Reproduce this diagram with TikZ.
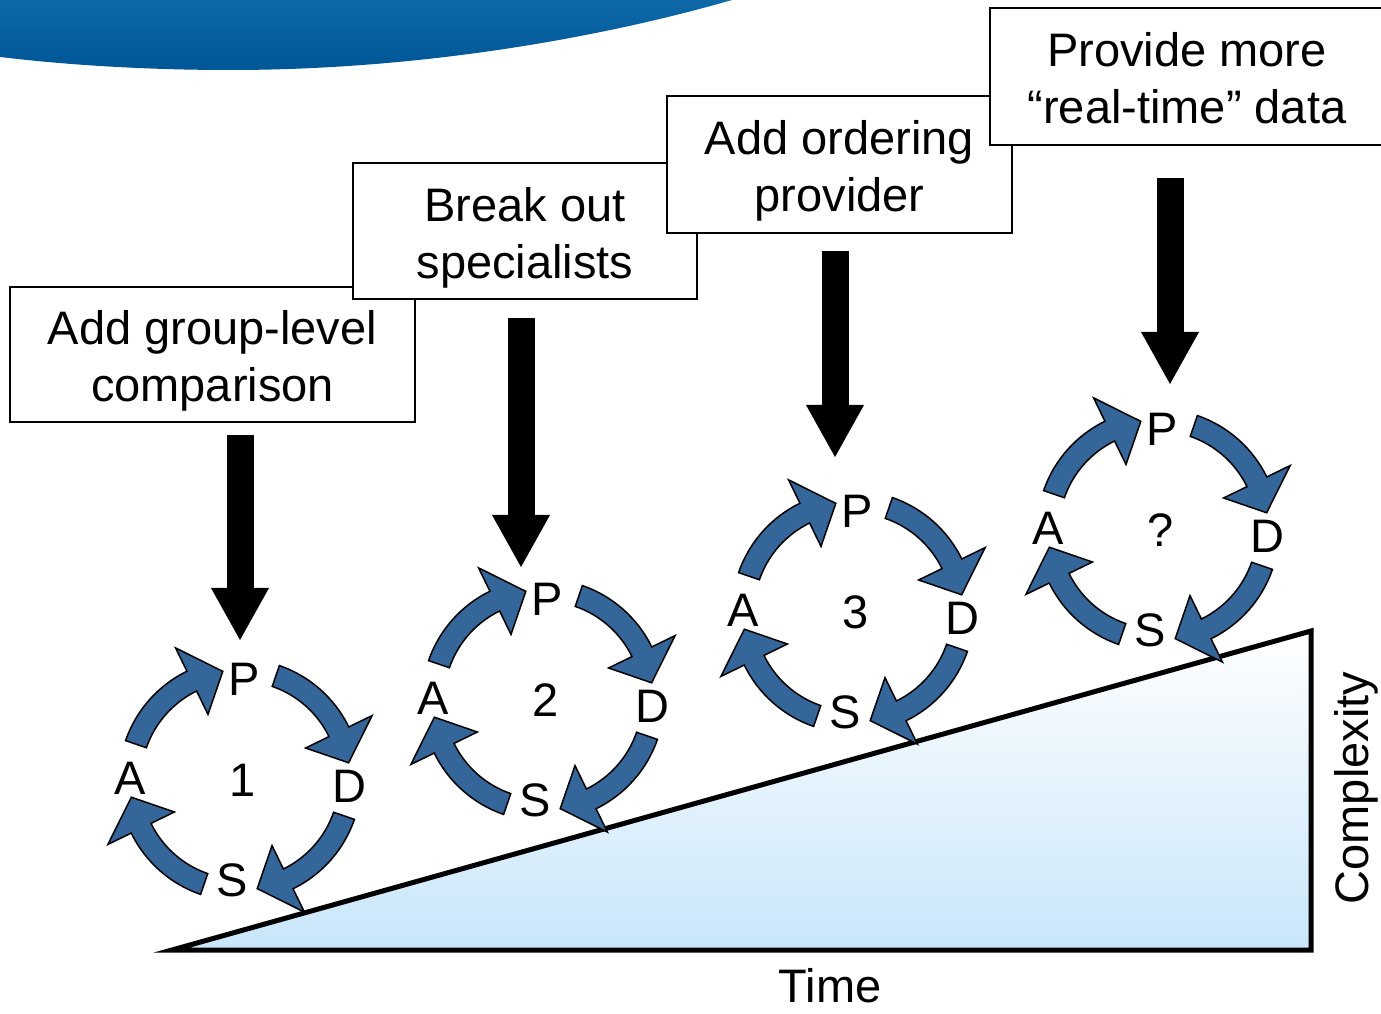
\documentclass[tikz,border=0pt]{standalone}
\usepackage{fontspec}
\setmainfont{Liberation Sans}
\usetikzlibrary{arrows.meta}
\definecolor{swtop}{RGB}{14,104,168}
\definecolor{swbot}{RGB}{0,86,150}
\definecolor{cyc}{RGB}{52,102,154}
\definecolor{triblue}{RGB}{200,230,250}
\newcommand{\topstrut}[1]{\rule{0pt}{#1}}
\tikzset{
  txt/.style={font=\fontsize{23.5pt}{28.5pt}\selectfont},
  box/.style={txt, draw=black, line width=0.8pt, fill=white, align=center, inner sep=0pt},
  bigarrow/.style={line width=13.5pt, -{Triangle[length=26pt,width=29pt,line width=0pt]}},
  cycarrow/.style={fill=cyc, draw=black, line width=0.75pt, line join=miter},
  pdsa/.pic={
    \foreach \k in {0,1,2,3}{
      \pgfmathsetmacro\sa{161-90*\k}
      \pgfmathsetmacro\ba{\sa-45}
      \pgfmathsetmacro\ta{\sa-62}
      \filldraw[cycarrow] (\sa:121) arc[start angle=\sa,end angle=\ba,radius=60.5pt]
        -- (\ba:147) -- (\ta:110) -- (\ba:73) -- (\ba:99)
        arc[start angle=\ba,end angle=\sa,radius=49.5pt] -- cycle;
    }
    \node[txt] (-P) at (4,101) {P};
    \node[txt] (-D) at (109,-6) {D};
    \node[txt] (-S) at (-8,-100) {S};
    \node[txt] (-A) at (-110,2) {A};
    \node[txt] (-n) at (3,0) {#1};
  }
}
\begin{document}
\begin{tikzpicture}[x=0.5pt,y=0.5pt]
\useasboundingbox (0,0) rectangle (1381,1013);
% top swoosh
\shade[top color=swtop, bottom color=swbot] (0,1013) -- (732,1013)
  .. controls (600,975) and (420,943) .. (230,943)
  .. controls (130,943) and (50,950) .. (0,956) -- cycle;
% triangle
\draw[line width=2.5pt, line join=miter, top color=white, bottom color=triblue]
  (172,63) -- (1311,63) -- (1311,382) -- cycle;
% boxes
\node[box, minimum width=202.5pt, minimum height=67.5pt] (b1) at (212.5,658.5) {\topstrut{23pt}Add group-level\\comparison};
\node[box, minimum width=172pt, minimum height=68pt] (b2) at (525,782) {\topstrut{24pt}Break out\\specialists};
\node[box, minimum width=172.5pt, minimum height=68.5pt] (b3) at (839.5,848.5) {\topstrut{23pt}Add ordering\\provider};
\node[box, minimum width=197pt, minimum height=68.5pt] (b4) at (1187,936.5) {\topstrut{19pt}Provide more\\“real-time” data};
% arrow endpoints
\coordinate (a1s) at (240,578); \coordinate (a1e) at (240,373);
\coordinate (a2s) at (521,695); \coordinate (a2e) at (521,446);
\coordinate (a3s) at (835,762); \coordinate (a3e) at (835,556);
\coordinate (a4s) at (1170,835); \coordinate (a4e) at (1170,629);
\draw[bigarrow] (a1s) -- (a1e);
\draw[bigarrow] (a2s) -- (a2e);
\draw[bigarrow] (a3s) -- (a3e);
\draw[bigarrow] (a4s) -- (a4e);
% cycles
\pic (c1) at (240,233) {pdsa=1};
\pic (c2) at (543,313) {pdsa=2};
\pic (c3) at (853,401) {pdsa=3};
\pic (c4) at (1158,483) {pdsa=?};
% axis labels
\node[txt] (time) at (830,27) {Time};
\node[txt, rotate=90] (cplx) at (1356,225) {Complexity};
\end{tikzpicture}
\end{document}
